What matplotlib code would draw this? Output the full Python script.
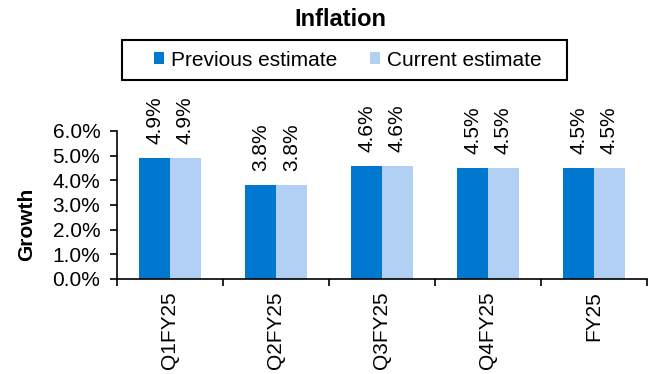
import matplotlib
matplotlib.use("Agg")
import matplotlib.pyplot as plt
from matplotlib.patches import Rectangle
import numpy as np

plt.rcParams['font.family'] = ['Liberation Sans', 'DejaVu Sans']

categories = ["Q1FY25", "Q2FY25", "Q3FY25", "Q4FY25", "FY25"]
previous = [4.9, 3.8, 4.6, 4.5, 4.5]
current = [4.9, 3.8, 4.6, 4.5, 4.5]
yticks = [0, 1, 2, 3, 4, 5, 6]

c_prev = "#0078D0"
c_curr = "#B1D0F4"
FS = 15

W, H = 656, 374
fig = plt.figure(figsize=(W / 100, H / 100), dpi=100)
ax = fig.add_axes([117 / W, 1 - 279 / H, (647 - 117) / W, (279 - 131) / H])

x = np.arange(len(categories))
w = 0.29
ax.bar(x - w / 2, previous, w, color=c_prev, label="Previous estimate")
ax.bar(x + w / 2, current, w, color=c_curr, label="Current estimate")

for xs, vals in ((x - w / 2, previous), (x + w / 2, current)):
    for xi, v in zip(xs, vals):
        ax.annotate(f"{v:.1f}%", (xi, v), xytext=(0, 10), textcoords="offset points",
                    rotation=90, ha="center", va="bottom", fontsize=FS)

ax.set_xlim(-0.5, len(categories) - 0.5)
ax.set_ylim(0, 6)
ax.set_yticks(yticks)
ax.set_yticklabels([f"{t:.1f}%" for t in yticks], fontsize=FS)
ax.set_xticks(np.arange(len(categories) + 1) - 0.5)
ax.set_xticklabels([])
ax.set_xticks(x, minor=True)
ax.set_xticklabels(categories, minor=True, rotation=90, fontsize=FS)
ax.tick_params(axis="x", which="minor", length=0, pad=9)
ax.tick_params(axis="x", which="major", length=5, width=1.2, direction="out")
ax.tick_params(axis="y", length=5, width=1.2, direction="out", pad=7)
for s in ["top", "right"]:
    ax.spines[s].set_visible(False)
ax.spines["left"].set_linewidth(1.2)
ax.spines["bottom"].set_linewidth(1.2)

fig.text(27 / W, 1 - 224 / H, "Growth", rotation=90, ha="center", va="center",
         fontsize=FS, fontweight="bold")

fig.text(340 / W, 1 - 20 / H, "Inflation", ha="center", va="center",
         fontsize=17, fontweight="bold")

# legend box drawn separately so its padding can differ per side
fig.patches.append(Rectangle((122 / W, 1 - 80 / H), (567 - 122) / W, 40 / H,
                             transform=fig.transFigure, fill=False,
                             edgecolor="black", linewidth=1.5))
fig.legend(loc="center", bbox_to_anchor=(348 / W, 1 - 60 / H), ncol=2,
           frameon=False, fontsize=FS,
           handlelength=0.45, handleheight=0.45, handletextpad=0.35,
           columnspacing=1.6, borderpad=0.2)

fig.savefig("out.png", dpi=100)
